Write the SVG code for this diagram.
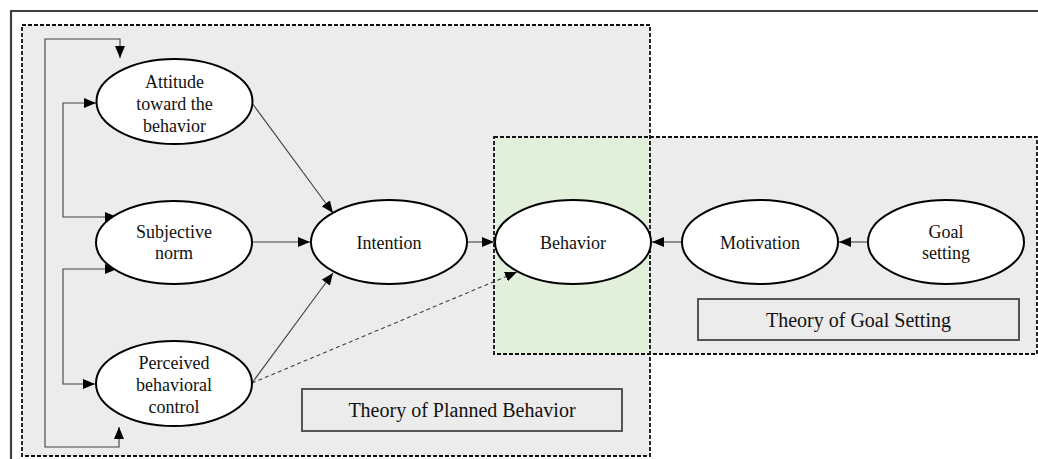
<svg xmlns="http://www.w3.org/2000/svg" width="1038" height="459" viewBox="0 0 1038 459">
<style>
.node ellipse{fill:#fff;stroke:#000;stroke-width:2}
.node text,.label text{font-family:"Liberation Serif","Times New Roman",serif;fill:#111;text-anchor:middle}
.node text{font-size:18px}
.label text{font-size:20px}
.label rect{fill:#ececec;stroke:#555;stroke-width:2}
.dash{fill:none;stroke:#111;stroke-width:1.8;stroke-dasharray:4 2}
.con path{fill:none;stroke:#404040;stroke-width:1.1}
.con .dotted{stroke-dasharray:4 3}
</style>
<defs>
<marker id="ah" viewBox="0 0 12 10" refX="12" refY="5" markerWidth="12" markerHeight="10" markerUnits="userSpaceOnUse" orient="auto">
<path d="M0,0 L12,5 L0,10 z" fill="#000"/>
</marker>
</defs>
<rect width="1038" height="459" fill="#fff"/>
<path d="M11,459 V11 H1038" fill="none" stroke="#404040" stroke-width="2.2"/>
<g id="tpb-frame">
<rect x="22" y="25" width="628" height="431" fill="#ececec"/>
</g>
<g id="tgs-frame">
<rect x="494" y="137" width="543" height="217" fill="#ececec"/>
</g>
<rect id="overlap" x="494" y="137" width="156" height="217" fill="#e2efda"/>
<rect class="dash" x="22" y="25" width="628" height="431"/>
<rect class="dash" x="494" y="137" width="543" height="217"/>

<g id="connectors" class="con">
<path d="M45,208 V39 H120 V58" marker-end="url(#ah)"/>
<path d="M45,208 V447 H119 V427" marker-end="url(#ah)"/>
<path d="M63,160 V103 H96" marker-end="url(#ah)"/>
<path d="M63,160 V217 H117" marker-end="url(#ah)"/>
<path d="M63,327 V269 H117" marker-end="url(#ah)"/>
<path d="M63,327 V384 H95" marker-end="url(#ah)"/>
<path d="M252,103 L333,213" marker-end="url(#ah)"/>
<path d="M252,242 H310" marker-end="url(#ah)"/>
<path d="M252,383 L333,273" marker-end="url(#ah)"/>
<path class="dotted" d="M252,383 L517,272" marker-end="url(#ah)"/>
<path d="M467,242 H494" marker-end="url(#ah)"/>
<path d="M682,242 H652" marker-end="url(#ah)"/>
<path d="M868,242 H839" marker-end="url(#ah)"/>
</g>

<g id="attitude" class="node">
<ellipse cx="174.5" cy="101.5" rx="78" ry="42.5"/>
<text x="174.5" y="88">Attitude</text>
<text x="174.5" y="110">toward the</text>
<text x="174.5" y="132">behavior</text>
</g>
<g id="subjective-norm" class="node">
<ellipse cx="174" cy="242.5" rx="78" ry="41.5"/>
<text x="174" y="238">Subjective</text>
<text x="174" y="259">norm</text>
</g>
<g id="perceived-control" class="node">
<ellipse cx="174" cy="383.5" rx="78" ry="42.5"/>
<text x="174" y="369">Perceived</text>
<text x="174" y="391">behavioral</text>
<text x="174" y="413">control</text>
</g>
<g id="intention" class="node">
<ellipse cx="389" cy="242" rx="78" ry="42"/>
<text x="389" y="249">Intention</text>
</g>
<g id="behavior" class="node">
<ellipse cx="573" cy="242" rx="78" ry="42"/>
<text x="573" y="249">Behavior</text>
</g>
<g id="motivation" class="node">
<ellipse cx="760" cy="242" rx="78" ry="42"/>
<text x="760" y="249">Motivation</text>
</g>
<g id="goal-setting" class="node">
<ellipse cx="946" cy="242" rx="78" ry="42"/>
<text x="946" y="238">Goal</text>
<text x="946" y="259">setting</text>
</g>

<g id="label-tpb" class="label">
<rect x="302" y="389" width="320" height="42"/>
<text x="462" y="417">Theory of Planned Behavior</text>
</g>
<g id="label-tgs" class="label">
<rect x="698" y="299" width="321" height="41"/>
<text x="858.5" y="327">Theory of Goal Setting</text>
</g>
</svg>
